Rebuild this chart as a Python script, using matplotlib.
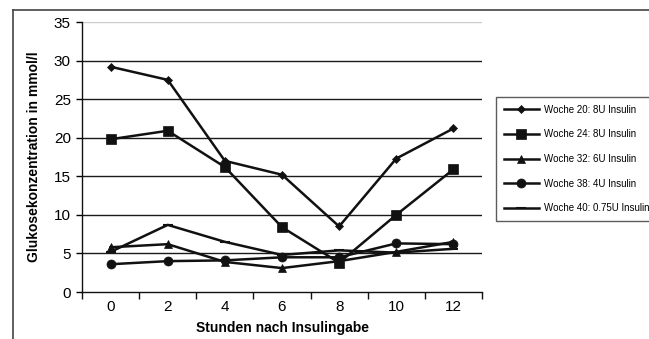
import numpy as np
import matplotlib.pyplot as plt
from matplotlib.lines import Line2D

plt.rcParams['font.family'] = ['Liberation Sans', 'DejaVu Sans']

hours = ["0", "2", "4", "6", "8", "10", "12"]
woche20 = [29.2, 27.5, 17.0, 15.2, 8.5, 17.3, 21.2]
woche24 = [19.8, 20.9, 16.2, 8.4, 3.8, 10.0, 15.9]
woche32 = [5.8, 6.2, 3.9, 3.1, 4.0, 5.2, 6.5]
woche38 = [3.6, 4.0, 4.1, 4.5, 4.5, 6.3, 6.2]
woche40 = [5.2, 8.7, 6.5, 4.8, 5.4, 5.1, 5.6]
labels = ["Woche 20: 8U Insulin", "Woche 24: 8U Insulin", "Woche 32: 6U Insulin",
          "Woche 38: 4U Insulin", "Woche 40: 0.75U Insulin"]

W, H = 649, 339
fig = plt.figure(figsize=(W / 100, H / 100), dpi=100)
ax = fig.add_axes([82 / W, 1 - 292 / H, 400 / W, 270 / H])

x = np.arange(len(hours))
series = [woche20, woche24, woche32, woche38, woche40]
markers = ["D", "s", "^", "o", "_"]
msizes = [4.5, 6.5, 6, 6.5, 7]
for vals, m, ms, lab in zip(series, markers, msizes, labels):
    ax.plot(x, vals, color="#111111", lw=1.8, marker=m, ms=ms, mew=1.5 if m == "_" else 0.5,
            mfc="#111111", mec="#111111", label=lab, zorder=3)

ax.set_xlim(-0.5, len(hours) - 0.5)
ax.set_ylim(0, 35)
ax.set_yticks(range(0, 36, 5))
for v in range(5, 31, 5):
    ax.axhline(v, color="#1a1a1a", lw=1.0, zorder=1)
ax.axhline(35, color="#cccccc", lw=1.0, zorder=1)

ax.set_xticks(np.arange(-0.5, len(hours)))
ax.set_xticklabels([])
ax.set_xticks(x, minor=True)
ax.set_xticklabels(hours, minor=True)
ax.tick_params(axis="x", which="major", direction="out", length=5, width=1, color="#111111")
ax.tick_params(axis="x", which="minor", length=0, pad=6, labelsize=11)
ax.tick_params(axis="y", direction="out", length=4, width=1, labelsize=11, pad=4)

for s in ["top", "right"]:
    ax.spines[s].set_visible(False)
for s in ["left", "bottom"]:
    ax.spines[s].set_color("#111111")
    ax.spines[s].set_linewidth(1.0)

ax.set_xlabel("Stunden nach Insulingabe", fontsize=10, fontweight="bold", labelpad=5)
ax.set_ylabel("Glukosekonzentration in mmol/l", fontsize=10, fontweight="bold", labelpad=9)

leg = fig.legend(loc="upper left", bbox_to_anchor=(496 / W, 1 - 97 / H), fontsize=7.0,
                 frameon=True, fancybox=False, edgecolor="#333333", handlelength=3.6,
                 labelspacing=1.5, borderpad=0.8, borderaxespad=0, handletextpad=0.5)
leg.get_frame().set_linewidth(1.0)

# outer chart frame (cut off on right and bottom)
fig.add_artist(Line2D([13 / W, 1], [1 - 10 / H, 1 - 10 / H], transform=fig.transFigure,
                      color="#444444", lw=1.2))
fig.add_artist(Line2D([13 / W, 13 / W], [1 - 10 / H, 0], transform=fig.transFigure,
                      color="#444444", lw=1.2))

fig.savefig("out.png", dpi=100)
